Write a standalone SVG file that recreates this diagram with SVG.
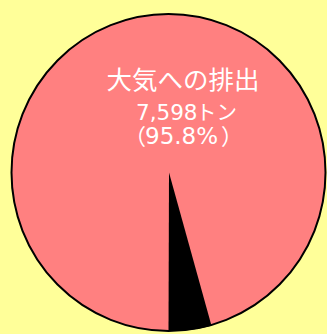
<svg xmlns="http://www.w3.org/2000/svg" width="327" height="334" viewBox="0 0 327 334">
  <style>
    .lbl { fill: #FFFFFF; font-family: "Noto Sans CJK JP", "Noto Sans", sans-serif; }
    .dg { font-family: "DejaVu Sans", "Noto Sans CJK JP", sans-serif; }
  </style>
  <rect x="0" y="0" width="327" height="334" fill="#FFFF99"/>
  <g id="pie">
    <ellipse id="slice-air" cx="168.5" cy="172.5" rx="157" ry="158.5" fill="#FF8080" stroke="#000000" stroke-width="2"/>
    <path id="slice-other" d="M169,172.5 L168.5,331 A157,158.5 0 0 0 211.5,325.8 Z" fill="#000000"/>
  </g>
  <g id="label">
    <text class="lbl" x="183" y="89" font-size="25" text-anchor="middle" textLength="153" lengthAdjust="spacingAndGlyphs">大気への排出</text>
    <text class="lbl" y="120"><tspan class="dg" x="136" font-size="21.5">7,598</tspan><tspan x="196" font-size="20.5">トン</tspan></text>
    <text class="lbl" y="144"><tspan x="124" font-size="22">（</tspan><tspan class="dg" x="145" font-size="23">95.8%</tspan><tspan x="221" font-size="22">）</tspan></text>
  </g>
</svg>
